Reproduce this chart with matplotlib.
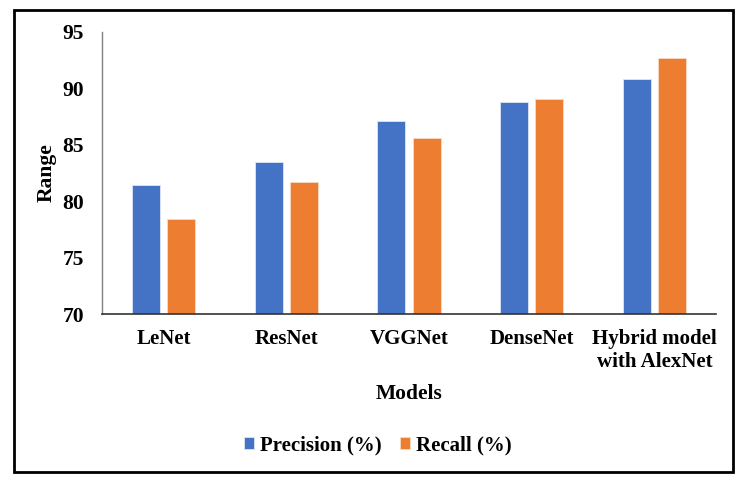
import numpy as np
import matplotlib
matplotlib.use("Agg")
import matplotlib.pyplot as plt
from matplotlib.patches import Rectangle

models = ["LeNet", "ResNet", "VGGNet", "DenseNet", "Hybrid model\nwith AlexNet"]
precision = [81.4, 83.5, 87.1, 88.8, 90.8]
recall = [78.4, 81.7, 85.6, 89.1, 92.7]

BLUE = "#4472C4"
ORANGE = "#ED7D31"

plt.rcParams["font.family"] = ["Liberation Serif", "DejaVu Serif"]
plt.rcParams["font.weight"] = "bold"

fig = plt.figure(figsize=(7.42, 4.84), dpi=100)

# outer frame round the whole picture
fig.patches.append(Rectangle((0.019, 0.025), 0.969, 0.954, transform=fig.transFigure,
                             fill=False, edgecolor="black", linewidth=2.0))

ax = fig.add_axes([0.1375, 0.351, 0.8275, 0.583])
x = np.arange(len(models))
w = 0.228
off = 0.143
ax.bar(x - off, precision, width=w, color=BLUE, edgecolor="#dfe6f5", linewidth=0.6,
       label="Precision (%)")
ax.bar(x + off, recall, width=w, color=ORANGE, edgecolor="#f8d9c4", linewidth=0.6,
       label="Recall (%)")

ax.set_ylim(70, 95)
ax.set_yticks([70, 75, 80, 85, 90, 95])
ax.set_xlim(-0.5, len(models) - 0.5)
ax.set_xticks(x)
ax.set_xticklabels(models, fontsize=15, fontweight="bold", va="top", linespacing=1.15)
ax.tick_params(axis="y", length=0, labelsize=15.5, pad=13)
ax.tick_params(axis="x", length=0, pad=11)
for lbl in ax.get_yticklabels():
    lbl.set_fontweight("bold")

for s in ["top", "right"]:
    ax.spines[s].set_visible(False)
ax.spines["left"].set_color("#808080")
ax.spines["left"].set_linewidth(1.0)
ax.spines["bottom"].set_color("#333333")
ax.spines["bottom"].set_linewidth(1.2)

ax.set_ylabel("Range", fontsize=15.5, fontweight="bold", labelpad=4)
ax.set_xlabel("Models", fontsize=15.5, fontweight="bold", labelpad=9)

fig.legend(loc="center", bbox_to_anchor=(0.509, 0.08), ncol=2, frameon=False,
           prop={"size": 15, "weight": "bold"}, handlelength=0.5, handleheight=0.5,
           handletextpad=0.25, columnspacing=0.9)

fig.savefig("out.png", dpi=100)
